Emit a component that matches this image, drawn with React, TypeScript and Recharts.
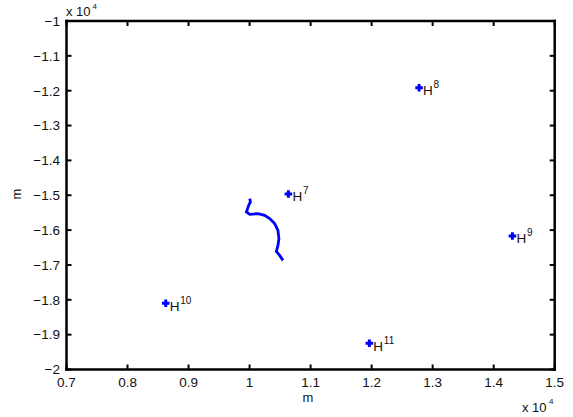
import { ScatterChart, Scatter, XAxis, YAxis } from 'recharts';

// station markers (H^n)
const stationNames = ['7', '8', '9', '10', '11'];
const stationX = [10636, 12778, 14307, 8626, 11963];
const stationY = [-14964, -11914, -16169, -18100, -19248];

// trajectory
const trackX = [10002, 10014, 9986, 9948, 10002, 10138, 10247, 10329, 10411, 10465, 10481, 10465, 10439, 10493, 10547];
const trackY = [-15096, -15193, -15288, -15481, -15547, -15527, -15576, -15670, -15814, -16007, -16245, -16438, -16610, -16725, -16869];

const xTicks = [7000, 8000, 9000, 10000, 11000, 12000, 13000, 14000, 15000];
const yTicks = [-20000, -19000, -18000, -17000, -16000, -15000, -14000, -13000, -12000, -11000, -10000];

const stations = stationX.map((x, i) => ({ x, y: stationY[i], name: stationNames[i] }));
const track = trackX.map((x, i) => ({ x, y: trackY[i] }));

const FONT = '"Liberation Sans", Arial, Helvetica, sans-serif';
const BLUE = '#0000ff';
const axisLine = { stroke: '#000', strokeWidth: 2.5, strokeLinecap: 'square' as const };

const fmt = (v: number) => String(Number((v / 10000).toFixed(1))).replace('-', '\u2212');

const BottomTick = (props: any) => {
  const { x, y, payload } = props;
  return (
    <g>
      <line x1={x} x2={x} y1={y} y2={y - 5} stroke="#000" strokeWidth={2} />
      <text x={x} y={y + 17.5} textAnchor="middle" fontSize={13.5} fontFamily={FONT} fill="#111">
        {fmt(payload.value)}
      </text>
    </g>
  );
};

const TopTick = (props: any) => {
  const { x, y } = props;
  return <line x1={x} x2={x} y1={y} y2={y + 5} stroke="#000" strokeWidth={2} />;
};

const LeftTick = (props: any) => {
  const { x, y, payload } = props;
  return (
    <g>
      <line x1={x} x2={x + 5} y1={y} y2={y} stroke="#000" strokeWidth={2} />
      <text x={x - 6.5} y={y + 4.8} textAnchor="end" fontSize={13.5} fontFamily={FONT} fill="#111">
        {fmt(payload.value)}
      </text>
    </g>
  );
};

const RightTick = (props: any) => {
  const { x, y } = props;
  return <line x1={x} x2={x - 5} y1={y} y2={y} stroke="#000" strokeWidth={2} />;
};

const StationMark = (props: any) => {
  const { cx, cy, payload } = props;
  return (
    <g>
      <line x1={cx - 3.8} x2={cx + 3.8} y1={cy} y2={cy} stroke={BLUE} strokeWidth={3} />
      <line x1={cx} x2={cx} y1={cy - 3.8} y2={cy + 3.8} stroke={BLUE} strokeWidth={3} />
      <text x={cx + 4} y={cy + 7.5} fontSize={13.5} fontFamily={FONT} fill="#111">H</text>
      <text x={cx + 14.5} y={cy + 0.5} fontSize={10} fontFamily={FONT} fill="#111">{payload?.name}</text>
    </g>
  );
};

const NoDot = () => <g />;

export default function App() {
  return (
    <div style={{ position: 'fixed', left: 0, top: 0, width: 573, height: 417, background: '#fff' }}>
      <ScatterChart width={573} height={417} margin={{ top: 20, right: 17.3, bottom: 17.5, left: 6.5 }}>
        <XAxis xAxisId="b" type="number" dataKey="x" orientation="bottom" domain={[7000, 15000]} ticks={xTicks}
          height={30} tickSize={0} tickMargin={0} tickLine={false} axisLine={axisLine} tick={<BottomTick />}
          allowDataOverflow interval={0} />
        <XAxis xAxisId="t" type="number" dataKey="x" orientation="top" domain={[7000, 15000]} ticks={xTicks}
          height={1} tickSize={0} tickMargin={0} tickLine={false} axisLine={axisLine} tick={<TopTick />}
          allowDataOverflow interval={0} />
        <YAxis yAxisId="l" type="number" dataKey="y" orientation="left" domain={[-20000, -10000]} ticks={yTicks}
          width={60} tickSize={0} tickMargin={0} tickLine={false} axisLine={axisLine} tick={<LeftTick />}
          allowDataOverflow interval={0} />
        <YAxis yAxisId="r" type="number" dataKey="y" orientation="right" domain={[-20000, -10000]} ticks={yTicks}
          width={1} tickSize={0} tickMargin={0} tickLine={false} axisLine={axisLine} tick={<RightTick />}
          allowDataOverflow interval={0} />
        <Scatter xAxisId="b" yAxisId="l" data={track} line={{ stroke: BLUE, strokeWidth: 2.8 }} lineJointType="linear"
          shape={<NoDot />} isAnimationActive={false} />
        <Scatter xAxisId="t" yAxisId="r" data={stations} shape={<StationMark />} isAnimationActive={false} />
      </ScatterChart>
      <svg width={573} height={417} style={{ position: 'absolute', left: 0, top: 0, pointerEvents: 'none' }}>
        <g fontFamily={FONT} fill="#111">
          <text x={66} y={16} fontSize={13}>x 10</text>
          <text x={92.5} y={8.5} fontSize={8}>4</text>
          <text x={522} y={412} fontSize={13}>x 10</text>
          <text x={549} y={404} fontSize={8}>4</text>
          <text x={308} y={402} fontSize={13} textAnchor="middle">m</text>
          <text x={21} y={194} fontSize={13} textAnchor="middle" transform="rotate(-90 21 194)">m</text>
        </g>
      </svg>
    </div>
  );
}
